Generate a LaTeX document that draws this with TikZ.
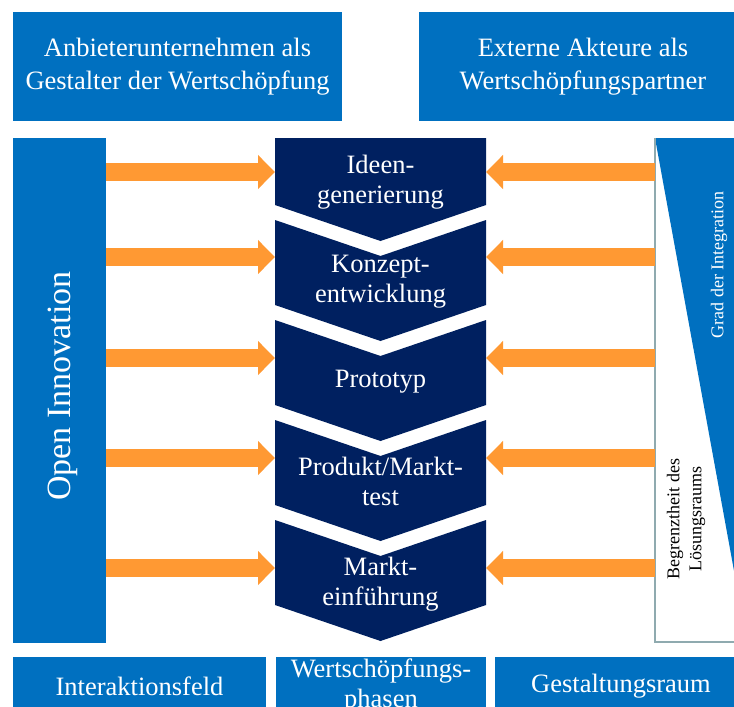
\documentclass[tikz,border=0pt]{standalone}
\usepackage{fontspec}
\setmainfont{Liberation Serif}
\usetikzlibrary{arrows.meta}

\definecolor{hellblau}{RGB}{0,112,192}
\definecolor{dunkelblau}{RGB}{0,32,96}
\definecolor{pfeilorange}{RGB}{255,153,51}
\definecolor{randgrau}{RGB}{143,170,175}

\tikzset{
  feld/.style={fill=hellblau, text=white, align=center, inner sep=0pt,
    font=\fontsize{26.5}{33}\selectfont},
  phase/.style={text=white, align=center, font=\fontsize{26.5}{30}\selectfont},
  pfeil/.style={pfeilorange, line width=18pt, -{Triangle[length=17pt, width=33pt]}},
  schmal/.style={rotate=90, align=center, font=\fontsize{18}{22}\selectfont}
}

\begin{document}
\begin{tikzpicture}[x=1pt, y=-1pt]

\useasboundingbox (0,0) rectangle (734,707);
\clip (0,0) rectangle (734,707);

% Top boxes
\node [feld, minimum width=329pt, minimum height=109pt] (anbieter) at (177.5,66.5)
  {Anbieterunternehmen als\\Gestalter der Wertschöpfung};
\node [feld, minimum width=328pt, minimum height=109pt] (extern) at (583,66.5)
  {Externe Akteure als\\Wertschöpfungspartner};

% Open Innovation bar
\node [feld, minimum width=93pt, minimum height=505pt] (oi) at (59.5,390.5) {};
\node [rotate=90, text=white, font=\fontsize{34}{40}\selectfont] (oitext) at (63,386) {Open Innovation};

% Phases
\fill [dunkelblau] (275,138) -- (486,138) -- (486,205) -- (380.5,241) -- (275,205) -- cycle;
\foreach \i in {1,...,4} {
  \pgfmathsetmacro\yt{120+100*\i}
  \fill [dunkelblau] (275,\yt) -- (380.5,\yt+36) -- (486,\yt) -- (486,\yt+85)
    -- (380.5,\yt+121) -- (275,\yt+85) -- cycle;
}
\node [phase] (p1) at (380.5,182) {Ideen-\\generierung};
\node [phase] (p2) at (380.5,282) {Konzept-\\entwicklung};
\node [phase] (p3) at (380.5,382) {Prototyp};
\node [phase] (p4) at (380.5,481) {Produkt/Markt-\\test};
\node [phase] (p5) at (380.5,584) {Markt-\\einführung};

% Design space
\fill [hellblau] (655,138) -- (747,138) -- (747,642) -- cycle;
\coordinate (rk) at (655,138);
\draw [randgrau, line width=2pt] (rk) -- (655,642) -- (747,642);
\node [schmal, text=white] (grad) at (719,265) {Grad der Integration};
\node [schmal] (begrenzt) at (686,519) {Begrenztheit des\\Lösungsraums};

% Arrows
\foreach \y [count=\n] in {172,257,358,458,568} {
  \coordinate (l\n) at (275,\y);
  \coordinate (r\n) at (486,\y);
  \draw [pfeil] (oi.east |- l\n) -- (l\n);
  \draw [pfeil] (rk |- r\n) -- (r\n);
}

% Bottom boxes
\node [feld, minimum width=253pt, minimum height=58pt] (interaktion) at (139.5,686) {Interaktionsfeld};
\node [feld, font=\fontsize{26.5}{30}\selectfont, minimum width=210pt, minimum height=58pt] (phasen) at (381,686)
  {Wertschöpfungs-\\phasen};
\node [feld, minimum width=252pt, minimum height=58pt] (gestaltung) at (621,686) {Gestaltungsraum};

\end{tikzpicture}
\end{document}
